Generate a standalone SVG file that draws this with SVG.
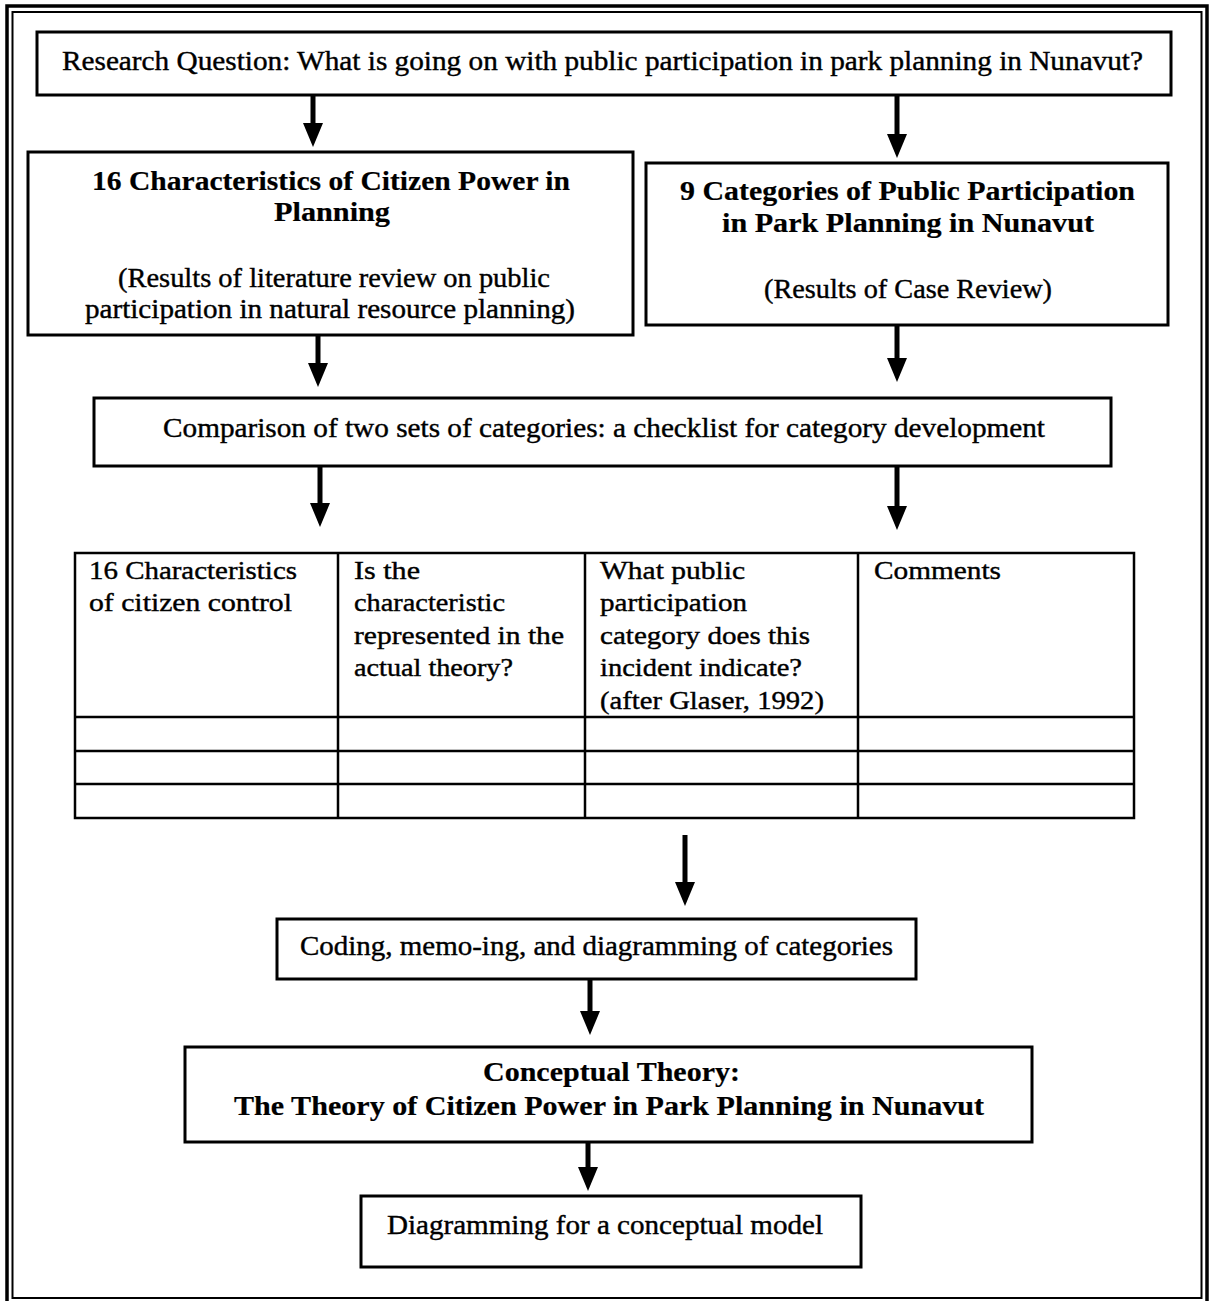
<svg xmlns="http://www.w3.org/2000/svg" width="1210" height="1301" viewBox="0 0 1210 1301">
  <style>
    .box { fill: #fff; stroke: #000; stroke-width: 3; }
    .grid { fill: none; stroke: #000; stroke-width: 2.5; }
    .frame { fill: none; stroke: #000; }
    .t { font-family: "Liberation Serif", "DejaVu Serif", serif; font-size: 27px; fill: #000; stroke: #000; stroke-width: 0.4; }
    .b { font-weight: bold; stroke-width: 0.2; }
    .cell { font-size: 26px; }
    .conn line { stroke: #000; stroke-width: 5; }
  </style>
  <defs>
    <!-- solid triangular head, drawn along +x so orient="auto" points it down the shaft -->
    <marker id="head" markerUnits="userSpaceOnUse" markerWidth="24" markerHeight="20" refX="1" refY="10" orient="auto" viewBox="0 0 24 20">
      <path d="M0,0 L24,10 L0,20 Z" fill="#000"/>
    </marker>
  </defs>

  <rect width="1210" height="1301" fill="#fff"/>

  <!-- double page frame -->
  <rect class="frame" x="7" y="6" width="1200" height="1298" stroke-width="3.5"/>
  <rect class="frame" x="12.5" y="12" width="1189" height="1286" stroke-width="2"/>

  <!-- connectors: shafts end where the arrowhead begins -->
  <g id="connectors" class="conn">
    <line x1="313" y1="95" x2="313" y2="124" marker-end="url(#head)"/>
    <line x1="897" y1="95" x2="897" y2="135" marker-end="url(#head)"/>
    <line x1="318" y1="335" x2="318" y2="364" marker-end="url(#head)"/>
    <line x1="897" y1="326" x2="897" y2="359" marker-end="url(#head)"/>
    <line x1="320" y1="466" x2="320" y2="504" marker-end="url(#head)"/>
    <line x1="897" y1="466" x2="897" y2="507" marker-end="url(#head)"/>
    <line x1="685" y1="835" x2="685" y2="883" marker-end="url(#head)"/>
    <line x1="590" y1="979" x2="590" y2="1012" marker-end="url(#head)"/>
    <line x1="588" y1="1142" x2="588" y2="1168" marker-end="url(#head)"/>
  </g>

  <g id="research-question">
    <rect class="box" x="37" y="32" width="1134" height="63"/>
    <text class="t" x="62" y="70" textLength="1081" lengthAdjust="spacingAndGlyphs">Research Question: What is going on with public participation in park planning in Nunavut?</text>
  </g>

  <g id="citizen-power">
    <rect class="box" x="28" y="152" width="605" height="183"/>
    <text class="t b" x="92" y="190" textLength="478" lengthAdjust="spacingAndGlyphs">16 Characteristics of Citizen Power in</text>
    <text class="t b" x="274" y="221" textLength="116" lengthAdjust="spacingAndGlyphs">Planning</text>
    <text class="t" x="118" y="287" textLength="432" lengthAdjust="spacingAndGlyphs">(Results of literature review on public</text>
    <text class="t" x="85" y="318" textLength="490" lengthAdjust="spacingAndGlyphs">participation in natural resource planning)</text>
  </g>

  <g id="participation-categories">
    <rect class="box" x="646" y="163" width="522" height="162"/>
    <text class="t b" x="680" y="200" textLength="455" lengthAdjust="spacingAndGlyphs">9 Categories of Public Participation</text>
    <text class="t b" x="722" y="232" textLength="372" lengthAdjust="spacingAndGlyphs">in Park Planning in Nunavut</text>
    <text class="t" x="764" y="298" textLength="288" lengthAdjust="spacingAndGlyphs">(Results of Case Review)</text>
  </g>

  <g id="comparison">
    <rect class="box" x="94" y="398" width="1017" height="68"/>
    <text class="t" x="163" y="437" textLength="882" lengthAdjust="spacingAndGlyphs">Comparison of two sets of categories: a checklist for category development</text>
  </g>

  <g id="checklist-table">
    <rect class="grid" x="75" y="553" width="1059" height="265"/>
    <line class="grid" x1="338" y1="553" x2="338" y2="818"/>
    <line class="grid" x1="585" y1="553" x2="585" y2="818"/>
    <line class="grid" x1="858" y1="553" x2="858" y2="818"/>
    <line class="grid" x1="75" y1="717" x2="1134" y2="717"/>
    <line class="grid" x1="75" y1="751" x2="1134" y2="751"/>
    <line class="grid" x1="75" y1="784" x2="1134" y2="784"/>
    <text class="t cell" x="89" y="579" textLength="208" lengthAdjust="spacingAndGlyphs">16 Characteristics</text>
    <text class="t cell" x="89" y="611" textLength="203" lengthAdjust="spacingAndGlyphs">of citizen control</text>
    <text class="t cell" x="354" y="579" textLength="66" lengthAdjust="spacingAndGlyphs">Is the</text>
    <text class="t cell" x="354" y="611" textLength="151" lengthAdjust="spacingAndGlyphs">characteristic</text>
    <text class="t cell" x="354" y="644" textLength="210" lengthAdjust="spacingAndGlyphs">represented in the</text>
    <text class="t cell" x="354" y="676" textLength="159" lengthAdjust="spacingAndGlyphs">actual theory?</text>
    <text class="t cell" x="600" y="579" textLength="145" lengthAdjust="spacingAndGlyphs">What public</text>
    <text class="t cell" x="600" y="611" textLength="147" lengthAdjust="spacingAndGlyphs">participation</text>
    <text class="t cell" x="600" y="644" textLength="210" lengthAdjust="spacingAndGlyphs">category does this</text>
    <text class="t cell" x="600" y="676" textLength="202" lengthAdjust="spacingAndGlyphs">incident indicate?</text>
    <text class="t cell" x="600" y="709" textLength="224" lengthAdjust="spacingAndGlyphs">(after Glaser, 1992)</text>
    <text class="t cell" x="874" y="579" textLength="127" lengthAdjust="spacingAndGlyphs">Comments</text>
  </g>

  <g id="coding">
    <rect class="box" x="277" y="919" width="639" height="60"/>
    <text class="t" x="300" y="955" textLength="593" lengthAdjust="spacingAndGlyphs">Coding, memo-ing, and diagramming of categories</text>
  </g>

  <g id="conceptual-theory">
    <rect class="box" x="185" y="1047" width="847" height="95"/>
    <text class="t b" x="483" y="1081" textLength="257" lengthAdjust="spacingAndGlyphs">Conceptual Theory:</text>
    <text class="t b" x="234" y="1115" textLength="750" lengthAdjust="spacingAndGlyphs">The Theory of Citizen Power in Park Planning in Nunavut</text>
  </g>

  <g id="conceptual-model">
    <rect class="box" x="361" y="1196" width="500" height="71"/>
    <text class="t" x="387" y="1234" textLength="436" lengthAdjust="spacingAndGlyphs">Diagramming for a conceptual model</text>
  </g>
</svg>
